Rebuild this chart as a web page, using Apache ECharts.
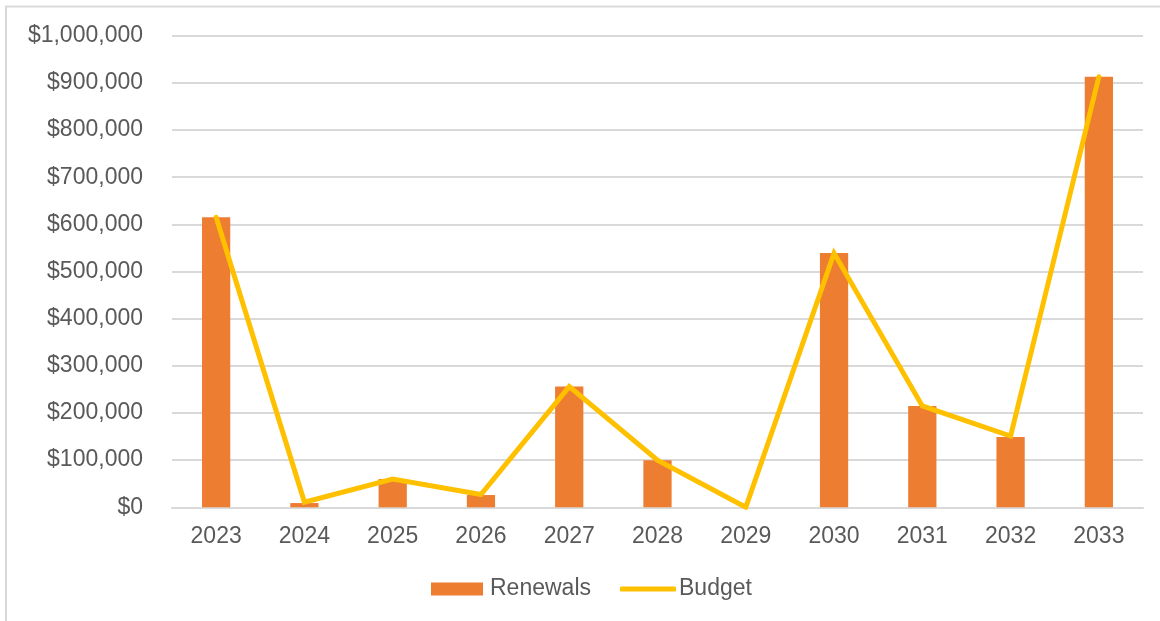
<!DOCTYPE html>
<html>
<head>
<meta charset="utf-8">
<script src="https://cdn.jsdelivr.net/npm/echarts@6/dist/echarts.min.js"></script>
<style>
  html, body { margin: 0; padding: 0; background: #fff; }
  #chart { width: 1160px; height: 621px; }
</style>
</head>
<body>
<div id="chart"></div>
<script>
// Renewal spending vs. budget by year
const years = ['2023', '2024', '2025', '2026', '2027', '2028', '2029', '2030', '2031', '2032', '2033'];
const renewals = [615000, 9000, 60000, 26000, 256000, 100000, 0, 539000, 215000, 149000, 913000];
const budget = [615000, 11000, 60000, 27000, 256000, 100000, 0, 539000, 215000, 151000, 913000];

const textColor = '#595959';
const gridColor = '#D9D9D9';
const fontFamily = '"Liberation Sans", Arial, sans-serif';
const fontSize = 23;

const legendText = { color: textColor, fontSize: fontSize, fontFamily: fontFamily, lineHeight: 26 };

const chart = echarts.init(document.getElementById('chart'), null, { renderer: 'canvas' });
chart.setOption({
  animation: false,
  backgroundColor: '#ffffff',
  textStyle: { fontFamily: fontFamily },
  graphic: [{
    type: 'rect',
    shape: { x: 6, y: 6.5, width: 1200, height: 700 },
    style: { fill: 'none', stroke: gridColor, lineWidth: 2 },
    silent: true
  }],
  grid: { left: 172, right: 17, top: 35.7, bottom: 113.7, containLabel: false },
  legend: [
    {
      left: 431,
      top: 576,
      padding: 0,
      itemWidth: 52,
      itemHeight: 13,
      textStyle: Object.assign({ padding: [0, 0, 0, 2] }, legendText),
      data: [{ name: 'Renewals', icon: 'rect' }]
    },
    {
      left: 620,
      top: 576,
      padding: 0,
      itemWidth: 56,
      itemHeight: 5,
      textStyle: Object.assign({ padding: [0, 0, 0, -2] }, legendText),
      data: [{ name: 'Budget', icon: 'roundRect' }]
    }
  ],
  xAxis: {
    type: 'category',
    data: years,
    axisLine: { show: true, lineStyle: { color: gridColor, width: 2 } },
    axisTick: { show: false },
    axisLabel: { color: textColor, fontSize: fontSize, margin: 18, fontFamily: fontFamily }
  },
  yAxis: {
    type: 'value',
    min: 0,
    max: 1000000,
    interval: 100000,
    axisLine: { show: false },
    axisTick: { show: false },
    splitLine: { lineStyle: { color: gridColor, width: 2 } },
    axisLabel: {
      color: textColor,
      fontSize: fontSize,
      margin: 29,
      fontFamily: fontFamily,
      formatter: v => '$' + v.toLocaleString('en-US')
    }
  },
  series: [
    {
      name: 'Renewals',
      type: 'bar',
      data: renewals,
      barWidth: '32%',
      itemStyle: { color: '#ED7D31' }
    },
    {
      name: 'Budget',
      type: 'line',
      data: budget,
      symbol: 'none',
      lineStyle: { color: '#FFC000', width: 5, join: 'miter', cap: 'round' },
      itemStyle: { color: '#FFC000' }
    }
  ]
});
</script>
</body>
</html>
